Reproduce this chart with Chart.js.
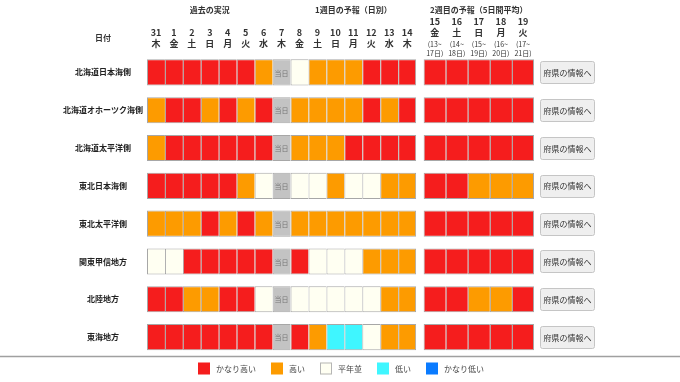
<!DOCTYPE html>
<html lang="ja">
<head>
<meta charset="utf-8">
<title>気温の予報</title>
<script src="https://cdn.jsdelivr.net/npm/chart.js@4.4.1/dist/chart.umd.min.js"></script>
<style>
    html, body { margin: 0; padding: 0; background: #fff; }
    #wrap { width: 680px; height: 382px; }
</style>
</head>
<body>
<div id="wrap"><canvas id="outlook" width="680" height="382"></canvas></div>
<script>
// Regions (one row each)
const regions = [
    '北海道日本海側',
    '北海道オホーツク海側',
    '北海道太平洋側',
    '東北日本海側',
    '東北太平洋側',
    '関東甲信地方',
    '北陸地方',
    '東海地方'
];

// Daily columns: past observations + week 1 forecast
const dayNumbers = ['31', '1', '2', '3', '4', '5', '6', '7', '8', '9', '10', '11', '12', '13', '14'];
const dayWeekdays = ['木', '金', '土', '日', '月', '火', '水', '木', '金', '土', '日', '月', '火', '水', '木'];
const todayIndex = 7;

// Week 2 columns (5-day means)
const weekNumbers = ['15', '16', '17', '18', '19'];
const weekWeekdays = ['金', '土', '日', '月', '火'];
const weekRanges = [
    ['(13~', '17日)'],
    ['(14~', '18日)'],
    ['(15~', '19日)'],
    ['(16~', '20日)'],
    ['(17~', '21日)']
];

// Levels: 5 かなり高い, 4 高い, 3 平年並, 2 低い, 1 かなり低い, null = 当日
const levelCodes = [5, 4, 3, 2, 1];
const levelNames = ['かなり高い', '高い', '平年並', '低い', 'かなり低い'];

const dailyLevels = [
    [5, 5, 5, 5, 5, 5, 4, null, 3, 4, 4, 4, 5, 5, 5],
    [4, 5, 5, 4, 5, 4, 5, null, 4, 4, 4, 4, 5, 4, 5],
    [4, 5, 5, 5, 5, 5, 5, null, 4, 4, 4, 5, 5, 5, 5],
    [5, 5, 5, 5, 5, 4, 3, null, 3, 3, 4, 3, 3, 4, 4],
    [4, 4, 4, 5, 4, 5, 4, null, 4, 4, 4, 4, 4, 4, 4],
    [3, 3, 5, 5, 5, 5, 5, null, 5, 3, 3, 3, 4, 4, 4],
    [5, 5, 4, 4, 5, 5, 3, null, 3, 3, 3, 3, 3, 4, 4],
    [5, 5, 5, 5, 5, 5, 5, null, 5, 4, 2, 2, 3, 4, 4]
];

const weeklyLevels = [
    [5, 5, 5, 5, 5],
    [5, 5, 5, 5, 5],
    [5, 5, 5, 5, 5],
    [5, 5, 4, 4, 4],
    [5, 5, 5, 5, 5],
    [5, 5, 5, 5, 5],
    [5, 5, 4, 4, 5],
    [5, 5, 5, 5, 5]
];

// ---- styling ----
const FONT = "'Noto Sans CJK JP', 'Noto Sans', sans-serif";
const levelColor = { 5: '#f51d1d', 4: '#fd9b00', 3: '#fffff2', 2: '#3ff6ff', 1: '#0a7bff' };
const TODAY_COLOR = '#c3c3c3';
const CELL_BORDER = 'rgba(80, 80, 80, 0.5)';

// column widths in x-axis units (one daily cell = 1)
const DAY_W = 1;
const GAP = 0.42;
const WEEK_W = 1.23;
const weekStart = dayNumbers.length * DAY_W + GAP;
const xMax = weekStart + weekNumbers.length * WEEK_W;

const columnCenters = [
    ...dayNumbers.map((_, c) => c * DAY_W + DAY_W / 2),
    ...weekNumbers.map((_, w) => weekStart + w * WEEK_W + WEEK_W / 2)
];
const columnLabels = [
    ...dayNumbers.map((d, c) => [d, dayWeekdays[c]]),
    ...weekNumbers.map((d, w) => [d, weekWeekdays[w], ''])
];

Chart.defaults.font.family = FONT;

const datasets = [];
dayNumbers.forEach((d, c) => {
    const x0 = c * DAY_W;
    datasets.push({
        label: d + '日',
        data: regions.map(() => [x0, x0 + DAY_W]),
        backgroundColor: regions.map((_, r) =>
            c === todayIndex ? TODAY_COLOR : levelColor[dailyLevels[r][c]]),
        borderWidth: { top: 1, bottom: 1, left: 1, right: c === dayNumbers.length - 1 ? 1 : 0 },
        isToday: c === todayIndex
    });
});
weekNumbers.forEach((d, w) => {
    const x0 = weekStart + w * WEEK_W;
    datasets.push({
        label: d + '日',
        data: regions.map(() => [x0, x0 + WEEK_W]),
        backgroundColor: regions.map((_, r) => levelColor[weeklyLevels[r][w]]),
        borderWidth: { top: 1, bottom: 1, left: 1, right: w === weekNumbers.length - 1 ? 1 : 0 }
    });
});
datasets.forEach(ds => {
    ds.borderColor = CELL_BORDER;
    ds.borderSkipped = false;
    ds.grouped = false;
    ds.categoryPercentage = 1;
    ds.barPercentage = 0.69;
});

// headers, 当日 marks, buttons, separator and legend
const decor = {
    id: 'decor',
    afterDatasetsDraw(chart) {
        const ctx = chart.ctx;
        ctx.save();
        ctx.font = '7px ' + FONT;
        ctx.fillStyle = '#777';
        ctx.textAlign = 'center';
        ctx.textBaseline = 'middle';
        chart.data.datasets.forEach((ds, i) => {
            if (!ds.isToday) return;
            chart.getDatasetMeta(i).data.forEach(bar => {
                const c = bar.getCenterPoint();
                ctx.fillText('当日', c.x, c.y + 0.5);
            });
        });
        ctx.restore();
    },
    afterDraw(chart) {
        const ctx = chart.ctx;
        const xs = chart.scales.x;
        const ys = chart.scales.y;
        const area = chart.chartArea;
        ctx.save();
        ctx.textAlign = 'center';
        ctx.textBaseline = 'middle';

        // section titles
        ctx.fillStyle = '#333';
        ctx.font = 'bold 8px ' + FONT;
        const mid = (a, b) => (xs.getPixelForValue(a) + xs.getPixelForValue(b)) / 2;
        ctx.fillText('過去の実況', mid(0, todayIndex * DAY_W), 10);
        ctx.fillText('1週目の予報（日別）', mid((todayIndex + 1) * DAY_W, dayNumbers.length * DAY_W), 10);
        ctx.fillText('2週目の予報（5日間平均）', mid(weekStart, xMax), 10);

        // 日付 header over the region names
        const labelX = ys.getLabelItems()[0].options.translation[0];
        ctx.fillText('日付', labelX, 38);

        // 5-day ranges
        ctx.font = '7px ' + FONT;
        weekRanges.forEach((lines, w) => {
            const x = xs.getPixelForValue(columnCenters[dayNumbers.length + w]);
            ctx.fillText(lines[0], x, 44);
            ctx.fillText(lines[1], x, 53);
        });

        // 府県の情報へ buttons
        ctx.font = '8px ' + FONT;
        regions.forEach((_, r) => {
            const y = ys.getPixelForValue(r);
            const bx = area.right + 6.5;
            const bw = 54;
            const bh = 22;
            ctx.fillStyle = '#efefef';
            ctx.strokeStyle = '#c5c5c5';
            ctx.lineWidth = 1;
            ctx.beginPath();
            ctx.roundRect(bx, Math.round(y - bh / 2) + 0.5, bw, bh, 2);
            ctx.fill();
            ctx.stroke();
            ctx.fillStyle = '#333';
            ctx.fillText('府県の情報へ', bx + bw / 2, y + 0.5);
        });

        // separator above legend
        ctx.strokeStyle = '#a0a0a0';
        ctx.lineWidth = 1.5;
        ctx.beginPath();
        ctx.moveTo(0, area.bottom + 0.5);
        ctx.lineTo(chart.width, area.bottom + 0.5);
        ctx.stroke();

        // legend
        ctx.font = '8px ' + FONT;
        const box = 12, boxGap = 6, itemGap = 15;
        const widths = levelNames.map(n => ctx.measureText(n).width);
        const total = widths.reduce((s, w) => s + box + boxGap + w, 0) + itemGap * (levelNames.length - 1);
        let x = Math.round(chart.width / 2 - total / 2) + 1;
        const ly = area.bottom + 12.5;
        ctx.textAlign = 'left';
        levelCodes.forEach((code, i) => {
            ctx.fillStyle = levelColor[code];
            ctx.fillRect(x, ly - box / 2, box, box);
            if (code === 3) {
                ctx.strokeStyle = '#b5b5b5';
                ctx.lineWidth = 1;
                ctx.strokeRect(x + 0.5, ly - box / 2 + 0.5, box - 1, box - 1);
            }
            ctx.fillStyle = '#444';
            ctx.fillText(levelNames[i], x + box + boxGap, ly + 0.5);
            x += box + boxGap + widths[i] + itemGap;
        });
        ctx.restore();
    }
};

new Chart(document.getElementById('outlook'), {
    type: 'bar',
    data: { labels: regions, datasets: datasets },
    options: {
        responsive: false,
        animation: false,
        indexAxis: 'y',
        layout: { padding: { top: 0, left: 0, right: 0, bottom: 26 } },
        plugins: {
            legend: { display: false },
            tooltip: { enabled: false }
        },
        scales: {
            x: {
                type: 'linear',
                position: 'top',
                min: 0,
                max: xMax,
                grid: { display: false, drawTicks: false },
                border: { display: false },
                afterBuildTicks: axis => {
                    axis.ticks = columnCenters.map(v => ({ value: v }));
                },
                afterFit: axis => { axis.height = 53.5; },
                ticks: {
                    autoSkip: false,
                    maxRotation: 0,
                    padding: 5,
                    color: '#333',
                    font: { size: 9, weight: 'bold', lineHeight: 1.2 },
                    callback: (value, i) => columnLabels[i]
                }
            },
            y: {
                type: 'category',
                position: 'left',
                grid: { display: false, drawTicks: false },
                border: { display: false },
                afterFit: axis => { axis.width = 147; },
                ticks: {
                    crossAlign: 'center',
                    padding: 4,
                    color: '#222',
                    font: { size: 8, weight: 'bold' }
                }
            },
            yButtons: {
                type: 'category',
                position: 'right',
                grid: { display: false, drawTicks: false },
                border: { display: false },
                ticks: { display: false },
                afterFit: axis => { axis.width = 146; }
            }
        }
    },
    plugins: [decor]
});
</script>
</body>
</html>
